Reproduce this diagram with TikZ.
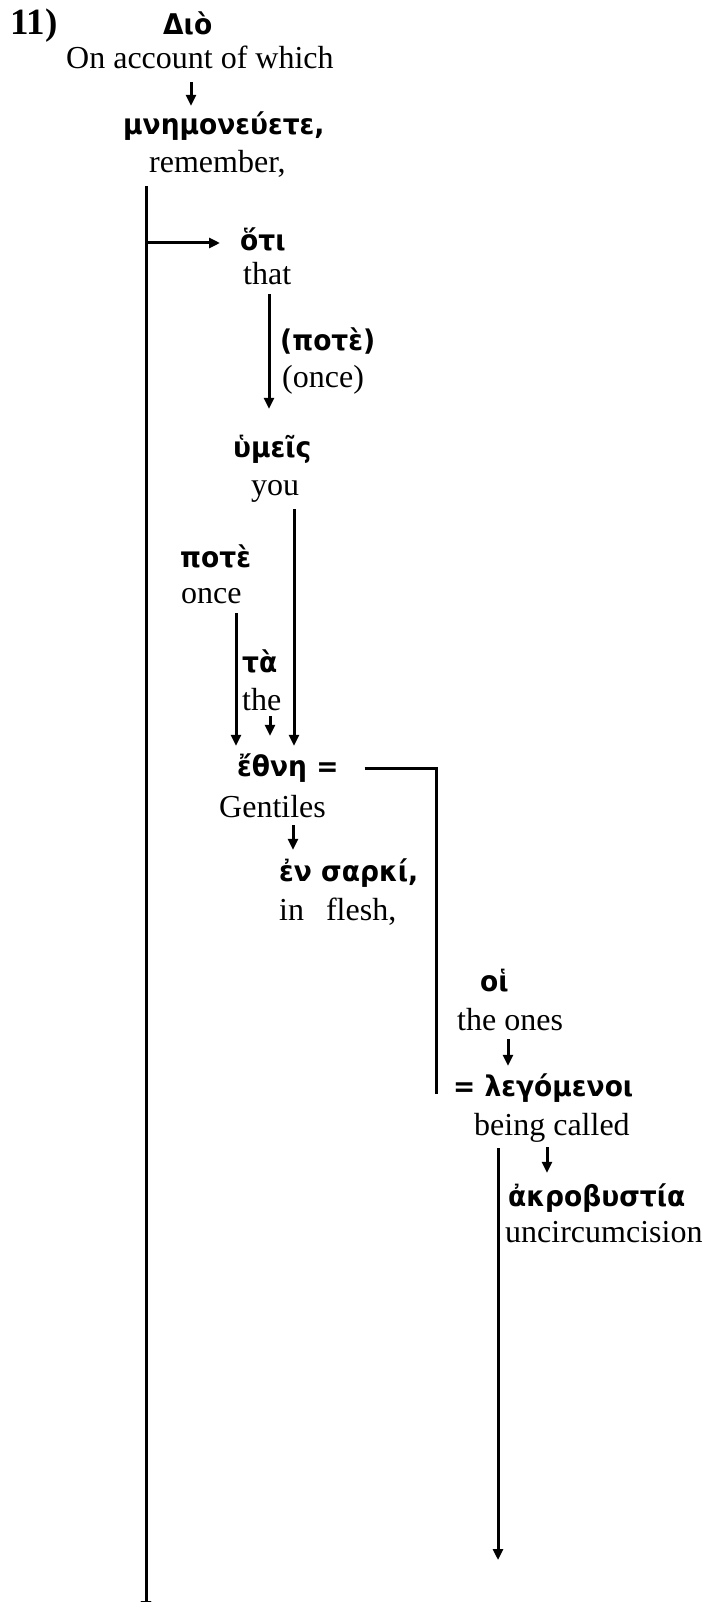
\documentclass[tikz,border=0pt]{standalone}
\usepackage{fontspec}
\setmainfont{Liberation Serif}
\newfontfamily\grk[Script=Greek,FakeStretch=0.93]{DejaVu Sans}
\usetikzlibrary{arrows.meta}
\tikzset{
  en/.style={inner sep=0pt,anchor=base west,text height=24pt,text depth=8pt,font=\fontsize{32}{38}\selectfont},
  gr/.style={inner sep=0pt,anchor=base west,text height=22pt,text depth=6pt,font=\grk\bfseries\fontsize{28.5}{33}\selectfont},
  arr/.style={line width=3pt,-{Triangle[length=11pt,width=10pt]}},
  ln/.style={line width=3pt},
}
\begin{document}
\begin{tikzpicture}[x=1pt,y=-1pt]
  \useasboundingbox (0,0) rectangle (704,1602);
  \node[en,font=\bfseries\fontsize{37}{42}\selectfont](num)at(10,35){11)};
  \node[gr](dio)at(163,35){Διὸ};
  \node[en](acct)at(66,69){On account of which};
  \node[gr](mnem)at(123,135){μνημονεύετε,};
  \node[en](remem)at(149,173){remember,};
  \node[gr](hoti)at(240,251){ὅτι};
  \node[en](that)at(243,285){that};
  \node[gr](pote1)at(280,350){(ποτὲ)};
  \node[en](once1)at(282,387){(once)};
  \node[gr](hymeis)at(233,457){ὑμεῖς};
  \node[en](you)at(251,495){you};
  \node[gr](pote)at(180,567){ποτὲ};
  \node[en](once)at(181,603){once};
  \node[gr](ta)at(242,672){τὰ};
  \node[en](the)at(242,710){the};
  \node[gr](ethne)at(237,776){ἔθνη =};
  \node[en](gent)at(219,817){Gentiles};
  \node[gr](ensarki)at(279,881){ἐν σαρκί,};
  \node[en](inflesh)at(279,920){in\hspace{22pt}flesh,};
  \node[gr](hoi)at(480,991){οἱ};
  \node[en](theones)at(457,1030){the ones};
  \node[gr](leg)at(453,1096){= λεγόμενοι};
  \node[en](called)at(474,1135){being called};
  \node[gr](akro)at(508,1206){ἀκροβυστία};
  \node[en](uncirc)at(505,1242){uncircumcision};
  \coordinate(endL)at(146,1612);
  \coordinate(endR)at(498,1560);
  \coordinate(brk)at(436,1094);
  % arrows
  \draw[arr,shorten <=5pt,shorten >=7pt](acct.south -| 191,0)--(mnem.north -| 191,0);
  \draw[arr,shorten <=5pt](remem.south -| endL)--(endL);
  \draw[arr,shorten >=20pt](hoti.west -| endL)--(hoti.west);
  \draw[arr,shorten <=1pt,shorten >=26pt](that.south -| 269,0)--(hymeis.north -| 269,0);
  \draw[arr,shorten <=6pt,shorten >=8pt](you.south -| 294,0)--(ethne.north -| 294,0);
  \draw[arr,shorten <=2pt,shorten >=8pt](once.south -| 236,0)--(ethne.north -| 236,0);
  \draw[arr,shorten <=-2pt,shorten >=18pt](the.south -| 270,0)--(ethne.north -| 270,0);
  \draw[ln,shorten <=26pt](ethne.east)-|(brk);
  \draw[arr,shorten >=9pt](gent.south -| 293,0)--(ensarki.north -| 293,0);
  \draw[arr,shorten <=1pt,shorten >=8pt](theones.south -| 508,0)--(leg.north -| 508,0);
  \draw[arr,shorten <=4pt,shorten >=11pt](called.south -| 547,0)--(akro.north -| 547,0);
  \draw[arr,shorten <=5pt](called.south -| endR)--(endR);
\end{tikzpicture}
\end{document}
